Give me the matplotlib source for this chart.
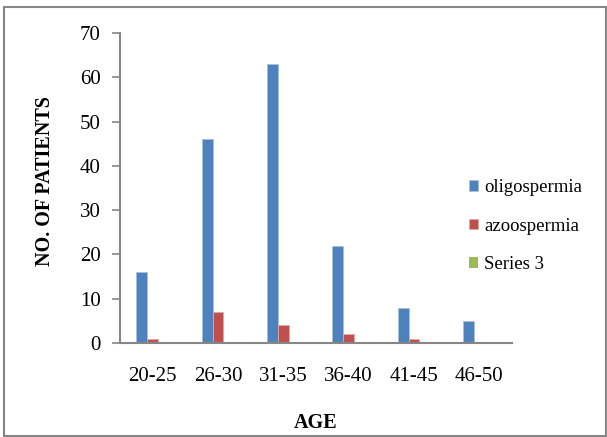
import numpy as np
import matplotlib
matplotlib.use("Agg")
import matplotlib.pyplot as plt
from matplotlib.patches import Rectangle

# data
ages = ["20-25", "26-30", "31-35", "36-40", "41-45", "46-50"]
oligospermia = [16, 46, 63, 22, 8, 5]
azoospermia = [1, 7, 4, 2, 1, 0]
series3 = [0, 0, 0, 0, 0, 0]

plt.rcParams['font.family'] = ['Liberation Serif', 'DejaVu Serif']

fig = plt.figure(figsize=(6.07, 4.37), dpi=100)
ax = fig.add_axes([120 / 607, 1 - 343 / 437, 392 / 607, 310 / 437])

x = np.arange(len(ages))
w = 0.168
ax.bar(x - w, oligospermia, w, color='#4F81BD', edgecolor='#a7c0de', linewidth=0.6, label='oligospermia')
ax.bar(x, azoospermia, w, color='#C0504D', edgecolor='#e0a8a6', linewidth=0.6, label='azoospermia')
ax.bar(x + w, series3, w, color='#9BBB59', label='Series 3')

ax.set_xlim(-0.5, len(ages) - 0.5)
ax.set_ylim(0, 70)
ax.set_yticks(range(0, 71, 10))
ax.set_xticks(x)
ax.set_xticklabels(ages)

for s in ['top', 'right']:
    ax.spines[s].set_visible(False)
for s in ['left', 'bottom']:
    ax.spines[s].set_color('#868686')
    ax.spines[s].set_linewidth(1.5)

ax.tick_params(axis='y', direction='out', length=6, width=1.2, color='#868686', labelsize=15, pad=8)
ax.tick_params(axis='x', length=0, labelsize=15, pad=17)

ax.set_xlabel('AGE', fontsize=14.5, fontweight='bold', labelpad=20)
fig.text(45 / 607, 1 - 181 / 437, 'NO. OF PATIENTS', rotation=90, ha='center', va='center',
         fontsize=14.5, fontweight='bold')

fig.legend(loc='upper left', bbox_to_anchor=(469 / 607, 1 - 179 / 437), frameon=False,
           fontsize=13.5, handlelength=0.5, handleheight=0.5, handletextpad=0.3,
           labelspacing=1.15, borderpad=0, borderaxespad=0)

# outer chart border
fig.add_artist(Rectangle((4 / 607, 1 / 437), 602 / 607, 429 / 437, transform=fig.transFigure,
                         fill=False, edgecolor='#868686', linewidth=1.5))

fig.savefig('out.png', dpi=100)
